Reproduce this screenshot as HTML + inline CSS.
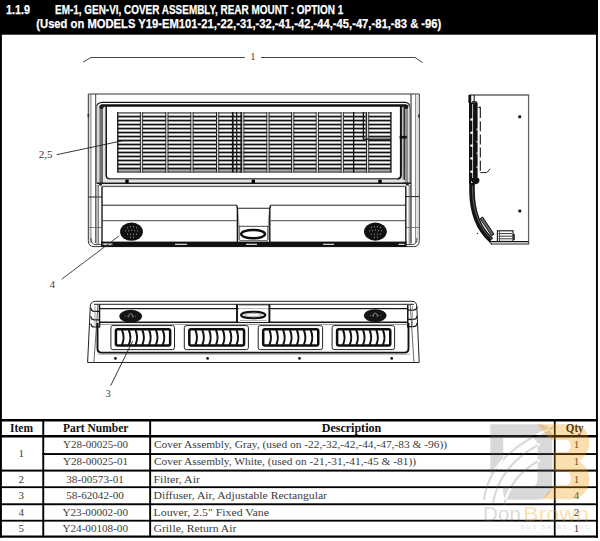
<!DOCTYPE html>
<html><head><meta charset="utf-8"><title>Cover Assembly</title>
<style>
html,body{margin:0;padding:0;background:#fff;width:600px;height:541px;overflow:hidden}
svg{display:block;position:absolute;left:0;top:0}
.hd{font-family:"Liberation Sans",sans-serif;font-weight:bold;fill:#fff;font-size:12.7px;stroke:#fff;stroke-width:0.25px}
.tb{font-family:"Liberation Serif",serif;font-size:11px;fill:#3c3c3c}
.th{font-family:"Liberation Serif",serif;font-size:11.5px;font-weight:bold;fill:#111}
.lb{font-family:"Liberation Serif",serif;font-size:10.5px;fill:#3a3a3a}
</style></head>
<body>
<svg width="600" height="541" viewBox="0 0 600 541">
<!-- frame -->
<rect x="0" y="0" width="598" height="34.7" fill="#000"/>
<rect x="0" y="0" width="1.9" height="537.7" fill="#000"/>
<rect x="596" y="0" width="1.9" height="537.7" fill="#000"/>
<text class="hd" x="6" y="13.5" textLength="24" lengthAdjust="spacingAndGlyphs">1.1.9</text>
<text class="hd" x="55" y="13.5" textLength="288.2" lengthAdjust="spacingAndGlyphs">EM-1, GEN-VI, COVER ASSEMBLY, REAR MOUNT : OPTION 1</text>
<text class="hd" x="36.3" y="27.8" textLength="405" lengthAdjust="spacingAndGlyphs">(Used on MODELS Y19-EM101-21,-22,-31,-32,-41,-42,-44,-45,-47,-81,-83 &amp; -96)</text>

<!-- DRAWING -->
<g id="drawing"><!--DRAW-->
<path d="M83,62.2 L91,57.5 H244.8" stroke="#444" stroke-width="1" fill="none"/>
<path d="M261,57.5 H415 L422.5,62.5" stroke="#444" stroke-width="1" fill="none"/>
<path d="M88.3,94 H419.3 V240.5 Q419.3,246.6 413.5,246.6 H94 Q88.3,246.6 88.3,240.5 Z" stroke="#333" stroke-width="1" fill="none"/>
<line x1="90.9" y1="94" x2="90.9" y2="243" stroke="#666" stroke-width="0.9"/>
<line x1="89.7" y1="94" x2="89.7" y2="243" stroke="#bbb" stroke-width="0.6"/>
<line x1="95.7" y1="94" x2="95.7" y2="243" stroke="#333" stroke-width="0.9"/>
<line x1="411.0" y1="94" x2="411.0" y2="243" stroke="#444" stroke-width="1.2"/>
<line x1="415.6" y1="94" x2="415.6" y2="243" stroke="#777" stroke-width="0.9"/>
<line x1="417.2" y1="94" x2="417.2" y2="243" stroke="#bbb" stroke-width="0.8"/>
<rect x="87.60" y="114.00" width="1.50" height="3.20" fill="#222" stroke="none" stroke-width="1" rx="0" />
<rect x="418.20" y="114.50" width="1.50" height="3.20" fill="#222" stroke="none" stroke-width="1" rx="0" />
<path d="M96.5,184 V108 Q96.5,102.4 102.5,102.4 H405 Q409.8,102.4 409.8,108 V184" stroke="#1a1a1a" stroke-width="1.1" fill="none"/>
<rect x="96.50" y="106.00" width="3.00" height="78.00" fill="#d4d4d4" stroke="none" stroke-width="1" rx="0" />
<rect x="99.40" y="106.00" width="3.60" height="78.00" fill="#6e6e6e" stroke="none" stroke-width="1" rx="0" />
<rect x="103.00" y="106.00" width="2.30" height="78.00" fill="#e4e4e4" stroke="none" stroke-width="1" rx="0" />
<rect x="401.80" y="106.00" width="1.60" height="78.00" fill="#c0c0c0" stroke="none" stroke-width="1" rx="0" />
<rect x="403.40" y="106.00" width="1.70" height="78.00" fill="#333" stroke="none" stroke-width="1" rx="0" />
<rect x="405.10" y="106.00" width="3.30" height="78.00" fill="#8e8e8e" stroke="none" stroke-width="1" rx="0" />
<rect x="408.40" y="106.00" width="1.20" height="78.00" fill="#dedede" stroke="none" stroke-width="1" rx="0" />
<path d="M101.5,105.5 H406" stroke="#111" stroke-width="2.3" fill="none"/>
<path d="M106.2,106 V175.3 Q106.2,178.9 109.8,178.9" stroke="#111" stroke-width="1.5" fill="none"/>
<path d="M400.9,106 V175.3 Q400.9,178.9 397.3,178.9" stroke="#111" stroke-width="2.0" fill="none"/>
<rect x="399.60" y="135.90" width="7.20" height="2.60" fill="#111" stroke="none" stroke-width="1" rx="0" />
<line x1="109.5" y1="178.9" x2="397.6" y2="178.9" stroke="#1a1a1a" stroke-width="1.3"/>
<rect x="103.00" y="179.80" width="302.00" height="2.60" fill="#e2e2e2" stroke="none" stroke-width="1" rx="0" />
<line x1="97" y1="183.2" x2="411" y2="183.2" stroke="#1a1a1a" stroke-width="1.4"/>
<line x1="97" y1="185.3" x2="411" y2="185.3" stroke="#999" stroke-width="0.7"/>
<line x1="102" y1="186.6" x2="405.8" y2="186.6" stroke="#444" stroke-width="0.9"/>
<rect x="125.30" y="179.60" width="3.40" height="3.40" fill="#000" stroke="none" stroke-width="1" rx="0" />
<rect x="251.60" y="179.60" width="3.40" height="3.40" fill="#000" stroke="none" stroke-width="1" rx="0" />
<rect x="378.30" y="179.60" width="3.40" height="3.40" fill="#000" stroke="none" stroke-width="1" rx="0" />
<circle cx="101.6" cy="106.8" r="2.2" fill="#1a1a1a"/>
<circle cx="406.2" cy="106.8" r="2.2" fill="#1a1a1a"/>
<circle cx="100.5" cy="184" r="1.6" fill="#222"/>
<circle cx="407.3" cy="184" r="1.6" fill="#222"/>
<rect x="117.10" y="112.00" width="274.40" height="60.50" fill="#767676" stroke="none" stroke-width="1" rx="0" />
<rect x="117.10" y="112.00" width="274.40" height="1.80" fill="#777" stroke="none" stroke-width="1" rx="0" />
<rect x="118.50" y="113.75" width="271.60" height="1.70" fill="#fdfdfd" stroke="none" stroke-width="1" rx="0" />
<rect x="117.70" y="116.05" width="273.20" height="1.05" fill="#111" stroke="none" stroke-width="1" rx="0" />
<rect x="118.50" y="117.74" width="271.60" height="1.70" fill="#fdfdfd" stroke="none" stroke-width="1" rx="0" />
<rect x="117.70" y="120.04" width="273.20" height="1.05" fill="#111" stroke="none" stroke-width="1" rx="0" />
<rect x="118.50" y="121.73" width="271.60" height="1.70" fill="#fdfdfd" stroke="none" stroke-width="1" rx="0" />
<rect x="117.70" y="124.03" width="273.20" height="1.05" fill="#111" stroke="none" stroke-width="1" rx="0" />
<rect x="118.50" y="125.72" width="271.60" height="1.70" fill="#fdfdfd" stroke="none" stroke-width="1" rx="0" />
<rect x="117.70" y="128.02" width="273.20" height="1.05" fill="#111" stroke="none" stroke-width="1" rx="0" />
<rect x="118.50" y="129.71" width="271.60" height="1.70" fill="#fdfdfd" stroke="none" stroke-width="1" rx="0" />
<rect x="117.70" y="132.01" width="273.20" height="1.05" fill="#111" stroke="none" stroke-width="1" rx="0" />
<rect x="118.50" y="133.70" width="271.60" height="1.70" fill="#fdfdfd" stroke="none" stroke-width="1" rx="0" />
<rect x="117.70" y="136.00" width="273.20" height="1.05" fill="#111" stroke="none" stroke-width="1" rx="0" />
<rect x="118.50" y="137.69" width="271.60" height="1.70" fill="#fdfdfd" stroke="none" stroke-width="1" rx="0" />
<rect x="117.70" y="139.99" width="273.20" height="1.05" fill="#111" stroke="none" stroke-width="1" rx="0" />
<rect x="118.50" y="141.68" width="271.60" height="1.70" fill="#fdfdfd" stroke="none" stroke-width="1" rx="0" />
<rect x="117.70" y="143.98" width="273.20" height="1.05" fill="#111" stroke="none" stroke-width="1" rx="0" />
<rect x="118.50" y="145.67" width="271.60" height="1.70" fill="#fdfdfd" stroke="none" stroke-width="1" rx="0" />
<rect x="117.70" y="147.97" width="273.20" height="1.05" fill="#111" stroke="none" stroke-width="1" rx="0" />
<rect x="118.50" y="149.66" width="271.60" height="1.70" fill="#fdfdfd" stroke="none" stroke-width="1" rx="0" />
<rect x="117.70" y="151.96" width="273.20" height="1.05" fill="#111" stroke="none" stroke-width="1" rx="0" />
<rect x="118.50" y="153.65" width="271.60" height="1.70" fill="#fdfdfd" stroke="none" stroke-width="1" rx="0" />
<rect x="117.70" y="155.95" width="273.20" height="1.05" fill="#111" stroke="none" stroke-width="1" rx="0" />
<rect x="118.50" y="157.64" width="271.60" height="1.70" fill="#fdfdfd" stroke="none" stroke-width="1" rx="0" />
<rect x="117.70" y="159.94" width="273.20" height="1.05" fill="#111" stroke="none" stroke-width="1" rx="0" />
<rect x="118.50" y="161.63" width="271.60" height="1.70" fill="#fdfdfd" stroke="none" stroke-width="1" rx="0" />
<rect x="117.70" y="163.93" width="273.20" height="1.05" fill="#111" stroke="none" stroke-width="1" rx="0" />
<rect x="118.50" y="165.62" width="271.60" height="1.70" fill="#fdfdfd" stroke="none" stroke-width="1" rx="0" />
<rect x="117.70" y="167.92" width="273.20" height="1.05" fill="#111" stroke="none" stroke-width="1" rx="0" />
<rect x="118.50" y="169.90" width="271.60" height="1.60" fill="#a8a8a8" stroke="none" stroke-width="1" rx="0" />
<rect x="117.60" y="171.60" width="273.40" height="0.90" fill="#444" stroke="none" stroke-width="1" rx="0" />
<rect x="117.10" y="112.00" width="1.20" height="60.50" fill="#222" stroke="none" stroke-width="1" rx="0" />
<rect x="390.30" y="112.00" width="1.20" height="60.50" fill="#222" stroke="none" stroke-width="1" rx="0" />
<rect x="139.90" y="112.00" width="1.00" height="60.50" fill="#222" stroke="none" stroke-width="1" rx="0" />
<rect x="140.90" y="112.00" width="1.30" height="60.50" fill="#d8d8d8" stroke="none" stroke-width="1" rx="0" />
<rect x="142.20" y="112.00" width="0.90" height="60.50" fill="#333" stroke="none" stroke-width="1" rx="0" />
<rect x="165.30" y="112.00" width="1.00" height="60.50" fill="#222" stroke="none" stroke-width="1" rx="0" />
<rect x="166.30" y="112.00" width="1.30" height="60.50" fill="#d8d8d8" stroke="none" stroke-width="1" rx="0" />
<rect x="167.60" y="112.00" width="0.90" height="60.50" fill="#333" stroke="none" stroke-width="1" rx="0" />
<rect x="190.40" y="112.00" width="1.00" height="60.50" fill="#222" stroke="none" stroke-width="1" rx="0" />
<rect x="191.40" y="112.00" width="1.30" height="60.50" fill="#d8d8d8" stroke="none" stroke-width="1" rx="0" />
<rect x="192.70" y="112.00" width="0.90" height="60.50" fill="#333" stroke="none" stroke-width="1" rx="0" />
<rect x="216.00" y="112.00" width="1.00" height="60.50" fill="#222" stroke="none" stroke-width="1" rx="0" />
<rect x="217.00" y="112.00" width="1.30" height="60.50" fill="#d8d8d8" stroke="none" stroke-width="1" rx="0" />
<rect x="218.30" y="112.00" width="0.90" height="60.50" fill="#333" stroke="none" stroke-width="1" rx="0" />
<rect x="241.20" y="112.00" width="1.00" height="60.50" fill="#222" stroke="none" stroke-width="1" rx="0" />
<rect x="242.20" y="112.00" width="1.30" height="60.50" fill="#d8d8d8" stroke="none" stroke-width="1" rx="0" />
<rect x="243.50" y="112.00" width="0.90" height="60.50" fill="#333" stroke="none" stroke-width="1" rx="0" />
<rect x="266.40" y="112.00" width="1.00" height="60.50" fill="#222" stroke="none" stroke-width="1" rx="0" />
<rect x="267.40" y="112.00" width="1.30" height="60.50" fill="#d8d8d8" stroke="none" stroke-width="1" rx="0" />
<rect x="268.70" y="112.00" width="0.90" height="60.50" fill="#333" stroke="none" stroke-width="1" rx="0" />
<rect x="291.10" y="112.00" width="1.00" height="60.50" fill="#222" stroke="none" stroke-width="1" rx="0" />
<rect x="292.10" y="112.00" width="1.30" height="60.50" fill="#d8d8d8" stroke="none" stroke-width="1" rx="0" />
<rect x="293.40" y="112.00" width="0.90" height="60.50" fill="#333" stroke="none" stroke-width="1" rx="0" />
<rect x="315.70" y="112.00" width="1.00" height="60.50" fill="#222" stroke="none" stroke-width="1" rx="0" />
<rect x="316.70" y="112.00" width="1.30" height="60.50" fill="#d8d8d8" stroke="none" stroke-width="1" rx="0" />
<rect x="318.00" y="112.00" width="0.90" height="60.50" fill="#333" stroke="none" stroke-width="1" rx="0" />
<rect x="340.70" y="112.00" width="1.00" height="60.50" fill="#222" stroke="none" stroke-width="1" rx="0" />
<rect x="341.70" y="112.00" width="1.30" height="60.50" fill="#d8d8d8" stroke="none" stroke-width="1" rx="0" />
<rect x="343.00" y="112.00" width="0.90" height="60.50" fill="#333" stroke="none" stroke-width="1" rx="0" />
<rect x="366.00" y="112.00" width="1.00" height="60.50" fill="#222" stroke="none" stroke-width="1" rx="0" />
<rect x="367.00" y="112.00" width="1.30" height="60.50" fill="#d8d8d8" stroke="none" stroke-width="1" rx="0" />
<rect x="368.30" y="112.00" width="0.90" height="60.50" fill="#333" stroke="none" stroke-width="1" rx="0" />
<rect x="231.90" y="112.00" width="1.70" height="60.50" fill="#151515" stroke="none" stroke-width="1" rx="0" />
<rect x="236.10" y="112.00" width="1.20" height="60.50" fill="#151515" stroke="none" stroke-width="1" rx="0" />
<rect x="240.40" y="112.00" width="1.30" height="60.50" fill="#151515" stroke="none" stroke-width="1" rx="0" />
<rect x="233.60" y="112.00" width="2.50" height="1.80" fill="#777" stroke="none" stroke-width="1" rx="0" />
<rect x="353.00" y="112.00" width="1.30" height="60.50" fill="#111" stroke="none" stroke-width="1" rx="0" />
<path d="M363.4,112 V139.2 H391" stroke="#111" stroke-width="1.3" fill="none"/>
<path d="M365.6,112 V137.4 H391" stroke="#777" stroke-width="0.6" fill="none"/>
<line x1="102" y1="186.6" x2="102" y2="243" stroke="#1a1a1a" stroke-width="1.4"/>
<line x1="405.8" y1="186.6" x2="405.8" y2="243" stroke="#1a1a1a" stroke-width="1.4"/>
<line x1="102" y1="205.2" x2="236.6" y2="205.2" stroke="#222" stroke-width="1"/>
<line x1="102" y1="220.7" x2="236.6" y2="220.7" stroke="#333" stroke-width="0.9"/>
<line x1="270.7" y1="205.2" x2="405.8" y2="205.2" stroke="#222" stroke-width="1"/>
<line x1="270.7" y1="220.7" x2="405.8" y2="220.7" stroke="#333" stroke-width="0.9"/>
<path d="M236.6,205.2 L237.4,208.3 V243" stroke="#111" stroke-width="1.4" fill="none"/>
<path d="M270.6,205.2 L269.8,208.3 V243" stroke="#111" stroke-width="1.4" fill="none"/>
<line x1="237.4" y1="208.3" x2="269.8" y2="208.3" stroke="#222" stroke-width="1.1"/>
<path d="M238.2,210 Q239.6,220 239.8,240 H238.2 Z" fill="#999"/>
<path d="M269,210 Q267.6,220 267.4,240 H269 Z" fill="#999"/>
<line x1="238.6" y1="226.3" x2="268.7" y2="226.3" stroke="#333" stroke-width="0.9"/>
<line x1="239.6" y1="226.3" x2="239.6" y2="240.5" stroke="#555" stroke-width="0.7"/>
<line x1="267.6" y1="226.3" x2="267.6" y2="240.5" stroke="#555" stroke-width="0.7"/>
<ellipse cx="253.1" cy="234.1" rx="11.9" ry="4.2" fill="#fff" stroke="#0d0d0d" stroke-width="2.5"/>
<line x1="239.6" y1="240.6" x2="267.6" y2="240.6" stroke="#444" stroke-width="0.8"/>
<rect x="101.00" y="241.60" width="305.60" height="5.30" fill="#111" stroke="none" stroke-width="1" rx="0" />
<rect x="102.50" y="243.20" width="10.00" height="2.00" fill="#888" stroke="none" stroke-width="1" rx="0" />
<rect x="104.00" y="243.70" width="7.00" height="1.30" fill="#d0d0d0" stroke="none" stroke-width="1" rx="0" />
<rect x="175.00" y="243.70" width="12.00" height="1.30" fill="#d0d0d0" stroke="none" stroke-width="1" rx="0" />
<rect x="246.00" y="243.70" width="11.00" height="1.30" fill="#d0d0d0" stroke="none" stroke-width="1" rx="0" />
<rect x="323.00" y="243.70" width="11.00" height="1.30" fill="#d0d0d0" stroke="none" stroke-width="1" rx="0" />
<rect x="398.50" y="243.70" width="6.00" height="1.30" fill="#d0d0d0" stroke="none" stroke-width="1" rx="0" />
<line x1="88.5" y1="197" x2="102" y2="197" stroke="#222" stroke-width="1.0"/>
<line x1="405.8" y1="196.6" x2="419.3" y2="196.6" stroke="#222" stroke-width="1.0"/>
<line x1="97.0" y1="185" x2="97.0" y2="244" stroke="#555" stroke-width="0.8"/>
<line x1="98.6" y1="185" x2="98.6" y2="244" stroke="#555" stroke-width="0.8"/>
<line x1="409.2" y1="185" x2="409.2" y2="244" stroke="#555" stroke-width="0.8"/>
<line x1="410.8" y1="185" x2="410.8" y2="244" stroke="#555" stroke-width="0.8"/>
<line x1="88.5" y1="227.5" x2="102" y2="227.5" stroke="#555" stroke-width="0.7"/>
<line x1="405.8" y1="227.5" x2="419.3" y2="227.5" stroke="#555" stroke-width="0.7"/>
<path d="M90.9,238 Q90.9,244.6 96,244.6 H101" stroke="#333" stroke-width="0.9" fill="none"/>
<path d="M417,238 Q417,244.6 412,244.6 H406" stroke="#333" stroke-width="0.9" fill="none"/>
<ellipse cx="131.5" cy="231.7" rx="11.4" ry="9.1" fill="#111"/>
<rect x="127.00" y="227.20" width="1.10" height="1.10" fill="#8a8a8a" stroke="none" stroke-width="1" rx="0" />
<rect x="130.00" y="226.20" width="1.10" height="1.10" fill="#8a8a8a" stroke="none" stroke-width="1" rx="0" />
<rect x="133.00" y="226.20" width="1.10" height="1.10" fill="#8a8a8a" stroke="none" stroke-width="1" rx="0" />
<rect x="136.00" y="227.20" width="1.10" height="1.10" fill="#8a8a8a" stroke="none" stroke-width="1" rx="0" />
<rect x="125.00" y="230.20" width="1.10" height="1.10" fill="#8a8a8a" stroke="none" stroke-width="1" rx="0" />
<rect x="128.00" y="230.20" width="1.10" height="1.10" fill="#8a8a8a" stroke="none" stroke-width="1" rx="0" />
<rect x="131.00" y="229.70" width="1.10" height="1.10" fill="#8a8a8a" stroke="none" stroke-width="1" rx="0" />
<rect x="134.00" y="230.20" width="1.10" height="1.10" fill="#8a8a8a" stroke="none" stroke-width="1" rx="0" />
<rect x="137.00" y="230.20" width="1.10" height="1.10" fill="#8a8a8a" stroke="none" stroke-width="1" rx="0" />
<rect x="127.00" y="233.70" width="1.10" height="1.10" fill="#8a8a8a" stroke="none" stroke-width="1" rx="0" />
<rect x="130.00" y="233.70" width="1.10" height="1.10" fill="#8a8a8a" stroke="none" stroke-width="1" rx="0" />
<rect x="133.00" y="233.70" width="1.10" height="1.10" fill="#8a8a8a" stroke="none" stroke-width="1" rx="0" />
<rect x="136.00" y="233.70" width="1.10" height="1.10" fill="#8a8a8a" stroke="none" stroke-width="1" rx="0" />
<rect x="130.00" y="236.70" width="1.10" height="1.10" fill="#8a8a8a" stroke="none" stroke-width="1" rx="0" />
<rect x="133.00" y="236.70" width="1.10" height="1.10" fill="#8a8a8a" stroke="none" stroke-width="1" rx="0" />
<ellipse cx="375.4" cy="231.6" rx="11.4" ry="9.1" fill="#111"/>
<rect x="370.90" y="227.10" width="1.10" height="1.10" fill="#8a8a8a" stroke="none" stroke-width="1" rx="0" />
<rect x="373.90" y="226.10" width="1.10" height="1.10" fill="#8a8a8a" stroke="none" stroke-width="1" rx="0" />
<rect x="376.90" y="226.10" width="1.10" height="1.10" fill="#8a8a8a" stroke="none" stroke-width="1" rx="0" />
<rect x="379.90" y="227.10" width="1.10" height="1.10" fill="#8a8a8a" stroke="none" stroke-width="1" rx="0" />
<rect x="368.90" y="230.10" width="1.10" height="1.10" fill="#8a8a8a" stroke="none" stroke-width="1" rx="0" />
<rect x="371.90" y="230.10" width="1.10" height="1.10" fill="#8a8a8a" stroke="none" stroke-width="1" rx="0" />
<rect x="374.90" y="229.60" width="1.10" height="1.10" fill="#8a8a8a" stroke="none" stroke-width="1" rx="0" />
<rect x="377.90" y="230.10" width="1.10" height="1.10" fill="#8a8a8a" stroke="none" stroke-width="1" rx="0" />
<rect x="380.90" y="230.10" width="1.10" height="1.10" fill="#8a8a8a" stroke="none" stroke-width="1" rx="0" />
<rect x="370.90" y="233.60" width="1.10" height="1.10" fill="#8a8a8a" stroke="none" stroke-width="1" rx="0" />
<rect x="373.90" y="233.60" width="1.10" height="1.10" fill="#8a8a8a" stroke="none" stroke-width="1" rx="0" />
<rect x="376.90" y="233.60" width="1.10" height="1.10" fill="#8a8a8a" stroke="none" stroke-width="1" rx="0" />
<rect x="379.90" y="233.60" width="1.10" height="1.10" fill="#8a8a8a" stroke="none" stroke-width="1" rx="0" />
<rect x="373.90" y="236.60" width="1.10" height="1.10" fill="#8a8a8a" stroke="none" stroke-width="1" rx="0" />
<rect x="376.90" y="236.60" width="1.10" height="1.10" fill="#8a8a8a" stroke="none" stroke-width="1" rx="0" />
<path d="M469.2,95 H528.6 V244.6" stroke="#666" stroke-width="1.3" fill="none"/>
<path d="M470.1,95 V184" stroke="#111" stroke-width="2.2" fill="none"/>
<path d="M472.0,183 V190 C472.0,213 479.8,230 491.3,240.2" stroke="#151515" stroke-width="5.6" fill="none"/>
<path d="M472.6,186 V190 C472.6,212 480.4,229 492,239.4" stroke="#888" stroke-width="0.7" fill="none"/>
<line x1="489.5" y1="241.7" x2="528.6" y2="241.7" stroke="#111" stroke-width="1.3"/>
<line x1="491" y1="244.0" x2="528.6" y2="244.0" stroke="#222" stroke-width="1.1"/>
<path d="M489.5,241.7 Q490.5,244 492,244" stroke="#111" stroke-width="1" fill="none"/>
<rect x="469.20" y="102.50" width="8.40" height="78.00" fill="#121212" stroke="none" stroke-width="1" rx="0" />
<rect x="472.00" y="104.00" width="1.10" height="76.00" fill="#b4b4b4" stroke="none" stroke-width="1" rx="0" />
<rect x="470.30" y="118.40" width="2.60" height="2.20" fill="#fff" stroke="none" stroke-width="1" rx="0" />
<rect x="470.30" y="131.70" width="2.60" height="2.20" fill="#fff" stroke="none" stroke-width="1" rx="0" />
<rect x="470.30" y="144.50" width="2.60" height="2.20" fill="#fff" stroke="none" stroke-width="1" rx="0" />
<rect x="470.30" y="157.30" width="2.60" height="2.20" fill="#fff" stroke="none" stroke-width="1" rx="0" />
<rect x="470.30" y="170.60" width="2.60" height="2.20" fill="#fff" stroke="none" stroke-width="1" rx="0" />
<rect x="476.60" y="128.50" width="1.00" height="1.80" fill="#fff" stroke="none" stroke-width="1" rx="0" />
<rect x="476.60" y="140.80" width="1.00" height="1.80" fill="#fff" stroke="none" stroke-width="1" rx="0" />
<rect x="476.60" y="152.40" width="1.00" height="1.80" fill="#fff" stroke="none" stroke-width="1" rx="0" />
<rect x="476.60" y="166.30" width="1.00" height="1.80" fill="#fff" stroke="none" stroke-width="1" rx="0" />
<line x1="469.2" y1="95" x2="469.2" y2="103" stroke="#111" stroke-width="1.6"/>
<line x1="474.2" y1="95" x2="474.2" y2="102" stroke="#111" stroke-width="1.0"/>
<path d="M472,101.9 H476.2 V103" stroke="#111" stroke-width="1.1" fill="none"/>
<path d="M469.2,178 H478.5 Q480.5,180 478.5,183 Q476,185 473.5,184 Z" fill="#121212"/>
<path d="M478.4,107.4 H480.3 V172.5" stroke="#111" stroke-width="1.1" fill="none"/>
<path d="M480.3,118 V172.5" stroke="#fff" stroke-width="1.8" stroke-dasharray="3.2 10"/>
<path d="M480.3,172.6 H486.8 L490.2,168.8" stroke="#222" stroke-width="1.0" fill="none"/>
<path d="M480.2,218.6 L482.6,217.0 L494.0,234.2 L491.6,235.8 Z" fill="#666" stroke="#111" stroke-width="1"/>
<circle cx="477.5" cy="233.5" r="0.8" fill="#333"/>
<rect x="518.30" y="115.40" width="2.80" height="2.80" fill="#111" stroke="none" stroke-width="1" rx="0" />
<rect x="518.40" y="209.60" width="2.80" height="2.80" fill="#111" stroke="none" stroke-width="1" rx="0" />
<rect x="497.40" y="230.80" width="15.60" height="10.60" fill="#fff" stroke="#111" stroke-width="1.1" rx="0" />
<line x1="498.5" y1="233.6" x2="512" y2="233.6" stroke="#222" stroke-width="0.9"/>
<line x1="498.5" y1="236.2" x2="512" y2="236.2" stroke="#222" stroke-width="0.9"/>
<line x1="498.5" y1="238.8" x2="512" y2="238.8" stroke="#222" stroke-width="0.9"/>
<line x1="499.5" y1="231" x2="499.5" y2="241" stroke="#333" stroke-width="0.8"/>
<rect x="512.80" y="234.00" width="2.00" height="6.00" fill="#222" stroke="none" stroke-width="1" rx="0" />
<path d="M87.6,362.5 L90.3,306.5 Q90.6,301.3 95.5,301.3 H412 Q416.6,301.3 416.8,306.5 L419.2,362.5 Z" stroke="#222" stroke-width="1" fill="none"/>
<path d="M98,304 L93.9,362.5" stroke="#444" stroke-width="0.8" fill="none"/>
<path d="M410.2,304 L414,362.5" stroke="#444" stroke-width="0.8" fill="none"/>
<line x1="94" y1="304.3" x2="414" y2="304.3" stroke="#222" stroke-width="1.0"/>
<line x1="99.5" y1="308.6" x2="407.5" y2="308.6" stroke="#1a1a1a" stroke-width="1.2"/>
<path d="M99.5,311.4 H94.6 Q91.0,311.4 90.9,307.79999999999995" stroke="#1a1a1a" stroke-width="1.2" fill="none"/>
<path d="M99.5,319.8 H94.6 Q91.0,319.8 90.9,316.2" stroke="#1a1a1a" stroke-width="1.2" fill="none"/>
<path d="M99.5,327.0 H94.6 Q91.0,327.0 90.9,323.4" stroke="#1a1a1a" stroke-width="1.2" fill="none"/>
<path d="M407.5,310.2 H413.2 Q416.9,310.2 417.0,306.59999999999997" stroke="#1a1a1a" stroke-width="1.2" fill="none"/>
<path d="M407.5,319.3 H413.2 Q416.9,319.3 417.0,315.7" stroke="#1a1a1a" stroke-width="1.2" fill="none"/>
<path d="M407.5,326.7 H413.2 Q416.9,326.7 417.0,323.09999999999997" stroke="#1a1a1a" stroke-width="1.2" fill="none"/>
<line x1="95" y1="306" x2="95" y2="327" stroke="#777" stroke-width="0.7"/>
<line x1="412.5" y1="306" x2="412.5" y2="327" stroke="#777" stroke-width="0.7"/>
<line x1="99.5" y1="305" x2="99.5" y2="327.5" stroke="#111" stroke-width="1.5"/>
<line x1="407.8" y1="305" x2="407.8" y2="327.5" stroke="#111" stroke-width="1.5"/>
<line x1="99.5" y1="322.2" x2="407.8" y2="322.2" stroke="#1a1a1a" stroke-width="1.4"/>
<line x1="99.5" y1="324.4" x2="407.8" y2="324.4" stroke="#666" stroke-width="0.7"/>
<rect x="238.60" y="306.00" width="29.80" height="16.00" fill="#fff" stroke="none" stroke-width="1" rx="0" />
<line x1="238.6" y1="304.9" x2="268.4" y2="304.9" stroke="#333" stroke-width="0.9"/>
<line x1="237.0" y1="304.3" x2="237.0" y2="322.2" stroke="#111" stroke-width="1.9"/>
<line x1="269.4" y1="304.3" x2="269.4" y2="322.2" stroke="#111" stroke-width="1.9"/>
<line x1="238.6" y1="308.6" x2="268.4" y2="308.6" stroke="#888" stroke-width="0.6"/>
<ellipse cx="253.2" cy="315.0" rx="12.2" ry="3.3" fill="#fff" stroke="#111" stroke-width="2.1"/>
<ellipse cx="253.2" cy="315.0" rx="8.5" ry="1.5" fill="none" stroke="#777" stroke-width="0.6"/>
<line x1="240" y1="320.6" x2="266.5" y2="320.6" stroke="#777" stroke-width="0.6"/>
<ellipse cx="130.7" cy="316.2" rx="11.4" ry="6.4" fill="#141414"/>
<path d="M128.5,317.4 Q128.5,313.59999999999997 130.7,313.59999999999997 Q132.89999999999998,313.59999999999997 132.89999999999998,317.4" stroke="#bbb" stroke-width="0.7" fill="none"/>
<rect x="125.30" y="315.80" width="0.80" height="0.80" fill="#999" stroke="none" stroke-width="1" rx="0" />
<rect x="127.30" y="315.80" width="0.80" height="0.80" fill="#999" stroke="none" stroke-width="1" rx="0" />
<rect x="133.30" y="315.80" width="0.80" height="0.80" fill="#999" stroke="none" stroke-width="1" rx="0" />
<rect x="135.30" y="315.80" width="0.80" height="0.80" fill="#999" stroke="none" stroke-width="1" rx="0" />
<ellipse cx="375.2" cy="315.6" rx="11.4" ry="6.4" fill="#141414"/>
<path d="M373.0,316.8 Q373.0,313.0 375.2,313.0 Q377.4,313.0 377.4,316.8" stroke="#bbb" stroke-width="0.7" fill="none"/>
<rect x="369.80" y="315.20" width="0.80" height="0.80" fill="#999" stroke="none" stroke-width="1" rx="0" />
<rect x="371.80" y="315.20" width="0.80" height="0.80" fill="#999" stroke="none" stroke-width="1" rx="0" />
<rect x="377.80" y="315.20" width="0.80" height="0.80" fill="#999" stroke="none" stroke-width="1" rx="0" />
<rect x="379.80" y="315.20" width="0.80" height="0.80" fill="#999" stroke="none" stroke-width="1" rx="0" />
<path d="M97.5,323 V348.5 Q97.5,352.6 101.5,352.6 H404.5 Q408.5,352.6 408.5,348.5 V323" stroke="#111" stroke-width="1.9" fill="none"/>
<line x1="98" y1="354.3" x2="410" y2="354.3" stroke="#777" stroke-width="0.6"/>
<rect x="110.90" y="325.60" width="63.60" height="24.00" fill="#fff" stroke="#222" stroke-width="1.0" rx="2" />
<rect x="115.90" y="329.25" width="54.25" height="16.30" fill="#fff" stroke="#0d0d0d" stroke-width="2.5" rx="1.8" />
<path d="M122.0,330 Q125.2,337.4 122.0,345" stroke="#111" stroke-width="2.0" fill="none"/>
<path d="M128.8,330 Q132.0,337.4 128.8,345" stroke="#111" stroke-width="2.0" fill="none"/>
<path d="M135.5,330 Q138.7,337.4 135.5,345" stroke="#111" stroke-width="2.0" fill="none"/>
<path d="M142.3,330 Q145.5,337.4 142.3,345" stroke="#111" stroke-width="2.0" fill="none"/>
<path d="M149.1,330 Q152.3,337.4 149.1,345" stroke="#111" stroke-width="2.0" fill="none"/>
<path d="M155.9,330 Q159.1,337.4 155.9,345" stroke="#111" stroke-width="2.0" fill="none"/>
<path d="M162.7,330 Q165.9,337.4 162.7,345" stroke="#111" stroke-width="2.0" fill="none"/>
<rect x="184.30" y="325.60" width="64.10" height="24.00" fill="#fff" stroke="#222" stroke-width="1.0" rx="2" />
<rect x="189.30" y="329.25" width="54.75" height="16.30" fill="#fff" stroke="#0d0d0d" stroke-width="2.5" rx="1.8" />
<path d="M195.4,330 Q198.6,337.4 195.4,345" stroke="#111" stroke-width="2.0" fill="none"/>
<path d="M202.3,330 Q205.5,337.4 202.3,345" stroke="#111" stroke-width="2.0" fill="none"/>
<path d="M209.1,330 Q212.3,337.4 209.1,345" stroke="#111" stroke-width="2.0" fill="none"/>
<path d="M216.0,330 Q219.2,337.4 216.0,345" stroke="#111" stroke-width="2.0" fill="none"/>
<path d="M222.8,330 Q226.0,337.4 222.8,345" stroke="#111" stroke-width="2.0" fill="none"/>
<path d="M229.7,330 Q232.9,337.4 229.7,345" stroke="#111" stroke-width="2.0" fill="none"/>
<path d="M236.5,330 Q239.7,337.4 236.5,345" stroke="#111" stroke-width="2.0" fill="none"/>
<rect x="258.20" y="325.60" width="64.40" height="24.00" fill="#fff" stroke="#222" stroke-width="1.0" rx="2" />
<rect x="263.20" y="329.25" width="55.05" height="16.30" fill="#fff" stroke="#0d0d0d" stroke-width="2.5" rx="1.8" />
<path d="M269.4,330 Q272.6,337.4 269.4,345" stroke="#111" stroke-width="2.0" fill="none"/>
<path d="M276.3,330 Q279.5,337.4 276.3,345" stroke="#111" stroke-width="2.0" fill="none"/>
<path d="M283.1,330 Q286.3,337.4 283.1,345" stroke="#111" stroke-width="2.0" fill="none"/>
<path d="M290.0,330 Q293.2,337.4 290.0,345" stroke="#111" stroke-width="2.0" fill="none"/>
<path d="M296.9,330 Q300.1,337.4 296.9,345" stroke="#111" stroke-width="2.0" fill="none"/>
<path d="M303.8,330 Q307.0,337.4 303.8,345" stroke="#111" stroke-width="2.0" fill="none"/>
<path d="M310.7,330 Q313.9,337.4 310.7,345" stroke="#111" stroke-width="2.0" fill="none"/>
<rect x="332.10" y="325.60" width="62.50" height="24.00" fill="#fff" stroke="#222" stroke-width="1.0" rx="2" />
<rect x="337.10" y="329.25" width="53.15" height="16.30" fill="#fff" stroke="#0d0d0d" stroke-width="2.5" rx="1.8" />
<path d="M343.0,330 Q346.2,337.4 343.0,345" stroke="#111" stroke-width="2.0" fill="none"/>
<path d="M349.7,330 Q352.9,337.4 349.7,345" stroke="#111" stroke-width="2.0" fill="none"/>
<path d="M356.3,330 Q359.5,337.4 356.3,345" stroke="#111" stroke-width="2.0" fill="none"/>
<path d="M363.0,330 Q366.2,337.4 363.0,345" stroke="#111" stroke-width="2.0" fill="none"/>
<path d="M369.6,330 Q372.8,337.4 369.6,345" stroke="#111" stroke-width="2.0" fill="none"/>
<path d="M376.3,330 Q379.5,337.4 376.3,345" stroke="#111" stroke-width="2.0" fill="none"/>
<path d="M382.9,330 Q386.1,337.4 382.9,345" stroke="#111" stroke-width="2.0" fill="none"/>
<circle cx="115.4" cy="358.4" r="1.35" fill="#111"/>
<circle cx="207.6" cy="358.4" r="1.35" fill="#111"/>
<circle cx="299.5" cy="358.4" r="1.35" fill="#111"/>
<circle cx="391.7" cy="358.4" r="1.35" fill="#111"/>
<path d="M56.7,154.7 L125,140.2" stroke="#222" stroke-width="0.9" fill="none"/>
<path d="M61.7,279.2 L119.2,235.8" stroke="#333" stroke-width="0.9" fill="none"/>
<path d="M110.7,385.6 L132.7,341" stroke="#222" stroke-width="0.9" fill="none"/>
<text class="lb" x="38.7" y="157.7" textLength="13.8" lengthAdjust="spacingAndGlyphs">2,5</text>
<text class="lb" x="49.7" y="287.6">4</text>
<text class="lb" x="105.5" y="396.6">3</text>
<text class="lb" x="250.3" y="59.6">1</text>
<!--/DRAW--></g>

<!-- TABLE -->
<g fill="#000">
<rect x="0" y="419" width="598" height="2.5"/>
<rect x="0" y="435" width="598" height="2.5"/>
<rect x="42.3" y="453.1" width="555" height="1.9"/>
<rect x="0" y="469.6" width="598" height="2"/>
<rect x="0" y="486.3" width="598" height="1.8"/>
<rect x="0" y="503.3" width="598" height="1.9"/>
<rect x="0" y="519.8" width="598" height="1.8"/>
<rect x="0" y="535.5" width="598" height="2.2"/>
<rect x="42.3" y="419" width="1.9" height="118"/>
<rect x="149.2" y="419" width="1.9" height="118"/>
<rect x="553.9" y="419" width="1.7" height="118"/>
</g>
<text class="th" x="10" y="432" textLength="23" lengthAdjust="spacingAndGlyphs">Item</text>
<text class="th" x="63" y="432" textLength="65.4" lengthAdjust="spacingAndGlyphs">Part Number</text>
<text class="th" x="321.7" y="432" textLength="59.5" lengthAdjust="spacingAndGlyphs">Description</text>
<text class="th" x="565.8" y="432" textLength="17.8" lengthAdjust="spacingAndGlyphs">Qty</text>

<g class="tb" text-anchor="middle">
<text x="21.3" y="457">1</text>
<text x="21.3" y="482.9">2</text>
<text x="21.3" y="498.7">3</text>
<text x="21.3" y="515.9">4</text>
<text x="21.3" y="531.8">5</text>
<text x="576.5" y="448.4">1</text>
<text x="576.5" y="465">1</text>
<text x="576.5" y="482.9">1</text>
<text x="576.5" y="498.7">4</text>
<text x="576.5" y="515.9">2</text>
<text x="576.5" y="531.8">1</text>
</g>
<g class="tb">
<text x="63" y="448.4" textLength="65" lengthAdjust="spacingAndGlyphs">Y28-00025-00</text>
<text x="63" y="465" textLength="65" lengthAdjust="spacingAndGlyphs">Y28-00025-01</text>
<text x="66.3" y="482.9" textLength="57.5" lengthAdjust="spacingAndGlyphs">38-00573-01</text>
<text x="66.3" y="498.7" textLength="57.5" lengthAdjust="spacingAndGlyphs">58-62042-00</text>
<text x="62.5" y="515.9" textLength="65.5" lengthAdjust="spacingAndGlyphs">Y23-00002-00</text>
<text x="62.5" y="531.8" textLength="65.5" lengthAdjust="spacingAndGlyphs">Y24-00108-00</text>
<text x="154" y="448.4" textLength="293" lengthAdjust="spacingAndGlyphs">Cover Assembly, Gray, (used on -22,-32,-42,-44,-47,-83 &amp; -96))</text>
<text x="154" y="465" textLength="262" lengthAdjust="spacingAndGlyphs">Cover Assembly, White, (used on -21,-31,-41,-45 &amp; -81))</text>
<text x="153.5" y="482.9" textLength="46.5" lengthAdjust="spacingAndGlyphs">Filter, Air</text>
<text x="153.5" y="498.7" textLength="173.5" lengthAdjust="spacingAndGlyphs">Diffuser, Air, Adjustable Rectangular</text>
<text x="153.5" y="515.9" textLength="115.5" lengthAdjust="spacingAndGlyphs">Louver, 2.5" Fixed Vane</text>
<text x="153.5" y="531.8" textLength="83" lengthAdjust="spacingAndGlyphs">Grille, Return Air</text>
</g>

<!-- WATERMARK -->
<g id="wm"><!--WM-->
<defs>
<mask id="mcut" maskUnits="userSpaceOnUse" x="470" y="415" width="130" height="126">
<rect x="470" y="415" width="130" height="126" fill="#fff"/>
<g fill="none" stroke="#000" stroke-width="2.2">
<path d="M484,500 C487,474 505,447 554,427"/>
<path d="M493,503 C497,480 512,458 540,444"/>
<path d="M504,505 C508,488 518,472 540,460"/>
</g>
</mask>
<mask id="marc" maskUnits="userSpaceOnUse" x="470" y="415" width="130" height="126">
<rect x="470" y="415" width="130" height="126" fill="#fff"/>
<path fill="#000" d="M490.3,424.3 H539 C547,424.3 552.3,430 552.3,438 V483 C552.3,493 546,499.7 537,499.7 H506 C503.5,497 502.5,492 503.2,487 H530 C534.5,487 537.5,484 537.5,479 V446 C537.5,441 534.5,437.8 530,437.8 H503.2 V462 L490.3,474 Z"/>
</mask>
</defs>
<g opacity="0.25" fill="#6a6a6a">
<path mask="url(#mcut)" d="M490.3,424.3 H539 C547,424.3 552.3,430 552.3,438 V483 C552.3,493 546,499.7 537,499.7 H506 C503.5,497 502.5,492 503.2,487 H530 C534.5,487 537.5,484 537.5,479 V446 C537.5,441 534.5,437.8 530,437.8 H503.2 V462 L490.3,474 Z"/>
<g mask="url(#marc)" fill="none" stroke="#6a6a6a" stroke-width="2.1">
<path d="M484,500 C487,474 505,447 554,427"/>
<path d="M493,503 C497,480 512,458 540,444"/>
<path d="M504,505 C508,488 518,472 540,460"/>
</g>
</g>
<g opacity="0.3" fill="#f09600">
<path d="M537,424.3 H572 C583,424.3 589.3,432 589.3,442.5 C589.3,451 585,457 578.5,461 C585,464.5 589.5,471 589.5,479.5 C589.5,491 581,499.3 570,499.3 H542 L554,485.2 H566 C569,485.2 570.8,482 570.8,478.2 C570.8,474.4 569,471.2 566,471.2 H553 V452 H566 C569,452 570.5,449 570.5,446 C570.5,443 569,440 566,440 H551 Z"/>
<text x="523" y="521" font-family="Liberation Sans, sans-serif" font-size="20" textLength="66" lengthAdjust="spacingAndGlyphs">Brown</text>
</g>
<g opacity="0.25" fill="#6a6a6a">
<text x="483" y="521" font-family="Liberation Sans, sans-serif" font-size="20" textLength="38" lengthAdjust="spacingAndGlyphs">Don</text>
<text x="521" y="529" font-family="Liberation Sans, sans-serif" font-size="5.5" textLength="68" lengthAdjust="spacing">BUS SALES, INC</text>
</g>

<!--/WM--></g>
</svg>
</body></html>
